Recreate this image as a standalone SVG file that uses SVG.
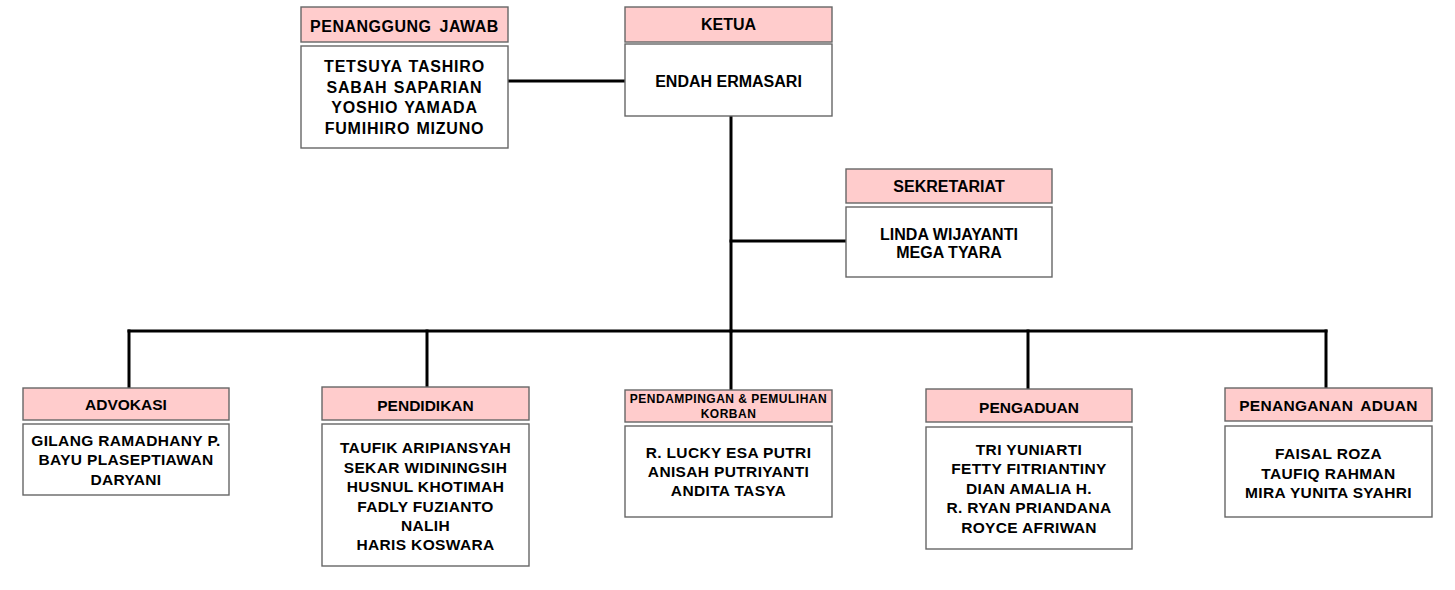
<svg xmlns="http://www.w3.org/2000/svg" width="1455" height="590" viewBox="0 0 1455 590">
<style>
.hd{fill:#FFCCCC;stroke:#666;stroke-width:1.4}
.bd{fill:#FFFFFF;stroke:#666;stroke-width:1.4}
text{font-family:"Liberation Sans",Arial,sans-serif;font-weight:bold;fill:#000;text-anchor:middle}
.t16{font-size:16px}
.pj{font-size:16px;letter-spacing:0.8px;word-spacing:1px}
.t15{font-size:15.5px}
.nm{font-size:15.5px;letter-spacing:0.35px}
.t12{font-size:12px;letter-spacing:0.5px}
.cn{stroke:#000;stroke-width:3;fill:none;stroke-linecap:square}
</style>
<rect width="1455" height="590" fill="#FFFFFF"/>
<g id="connectors">
<line class="cn" x1="508" y1="81" x2="625" y2="81"/>
<line class="cn" x1="731" y1="117" x2="731" y2="331"/>
<line class="cn" x1="731" y1="241" x2="845" y2="241"/>
<line class="cn" x1="129" y1="331" x2="1326" y2="331"/>
<line class="cn" x1="129" y1="331" x2="129" y2="387"/>
<line class="cn" x1="427" y1="331" x2="427" y2="387"/>
<line class="cn" x1="731" y1="331" x2="731" y2="389"/>
<line class="cn" x1="1028" y1="331" x2="1028" y2="389"/>
<line class="cn" x1="1326" y1="331" x2="1326" y2="387"/>
</g>
<g id="penanggung-jawab">
<rect class="hd" x="301" y="7" width="207" height="35"/>
<text class="t16" x="404.5" y="32" letter-spacing="0.5" word-spacing="3">PENANGGUNG JAWAB</text>
<rect class="bd" x="301" y="46" width="207" height="102"/>
<text class="pj" x="404.5" y="72">TETSUYA TASHIRO</text>
<text class="pj" x="404.5" y="93">SABAH SAPARIAN</text>
<text class="pj" x="404.5" y="113">YOSHIO YAMADA</text>
<text class="pj" x="404.5" y="134">FUMIHIRO MIZUNO</text>
</g>
<g id="ketua">
<rect class="hd" x="625" y="7" width="207" height="35"/>
<text class="t16" x="728.5" y="30">KETUA</text>
<rect class="bd" x="625" y="44" width="207" height="72"/>
<text class="t16" x="728.5" y="87">ENDAH ERMASARI</text>
</g>
<g id="sekretariat">
<rect class="hd" x="846" y="169" width="206" height="34"/>
<text class="t16" x="949" y="192">SEKRETARIAT</text>
<rect class="bd" x="846" y="207" width="206" height="70"/>
<text class="t16" x="949" y="240">LINDA WIJAYANTI</text>
<text class="t16" x="949" y="258">MEGA TYARA</text>
</g>
<g id="advokasi">
<rect class="hd" x="23" y="388" width="206" height="32"/>
<text class="t15" x="126" y="410">ADVOKASI</text>
<rect class="bd" x="23" y="424" width="206" height="71"/>
<text class="nm" x="126" y="445.5">GILANG RAMADHANY P.</text>
<text class="nm" x="126" y="465">BAYU PLASEPTIAWAN</text>
<text class="nm" x="126" y="484.5">DARYANI</text>
</g>
<g id="pendidikan">
<rect class="hd" x="322" y="387" width="207" height="33"/>
<text class="t15" x="425.5" y="410.5">PENDIDIKAN</text>
<rect class="bd" x="322" y="424" width="207" height="142"/>
<text class="nm" x="425.5" y="453">TAUFIK ARIPIANSYAH</text>
<text class="nm" x="425.5" y="472.5">SEKAR WIDININGSIH</text>
<text class="nm" x="425.5" y="492">HUSNUL KHOTIMAH</text>
<text class="nm" x="425.5" y="511.5">FADLY FUZIANTO</text>
<text class="nm" x="425.5" y="530.5">NALIH</text>
<text class="nm" x="425.5" y="549.5">HARIS KOSWARA</text>
</g>
<g id="pendampingan">
<rect class="hd" x="625" y="390" width="207" height="32"/>
<text class="t12" x="728.5" y="403">PENDAMPINGAN &amp; PEMULIHAN</text>
<text class="t12" x="728.5" y="418">KORBAN</text>
<rect class="bd" x="625" y="426" width="207" height="91"/>
<text class="nm" x="728.5" y="458">R. LUCKY ESA PUTRI</text>
<text class="nm" x="728.5" y="476.5">ANISAH PUTRIYANTI</text>
<text class="nm" x="728.5" y="495.5">ANDITA TASYA</text>
</g>
<g id="pengaduan">
<rect class="hd" x="926" y="389" width="206" height="33"/>
<text class="t15" x="1029" y="412.5">PENGADUAN</text>
<rect class="bd" x="926" y="427" width="206" height="122"/>
<text class="nm" x="1029" y="454.5">TRI YUNIARTI</text>
<text class="nm" x="1029" y="474">FETTY FITRIANTINY</text>
<text class="nm" x="1029" y="493.5">DIAN AMALIA H.</text>
<text class="nm" x="1029" y="513">R. RYAN PRIANDANA</text>
<text class="nm" x="1029" y="532.5">ROYCE AFRIWAN</text>
</g>
<g id="penanganan-aduan">
<rect class="hd" x="1225" y="388" width="207" height="33"/>
<text class="t15" x="1328.5" y="410.5" letter-spacing="0.3" word-spacing="3">PENANGANAN ADUAN</text>
<rect class="bd" x="1225" y="426" width="207" height="91"/>
<text class="nm" x="1328.5" y="459">FAISAL ROZA</text>
<text class="nm" x="1328.5" y="478.5">TAUFIQ RAHMAN</text>
<text class="nm" x="1328.5" y="497.5">MIRA YUNITA SYAHRI</text>
</g>
</svg>
